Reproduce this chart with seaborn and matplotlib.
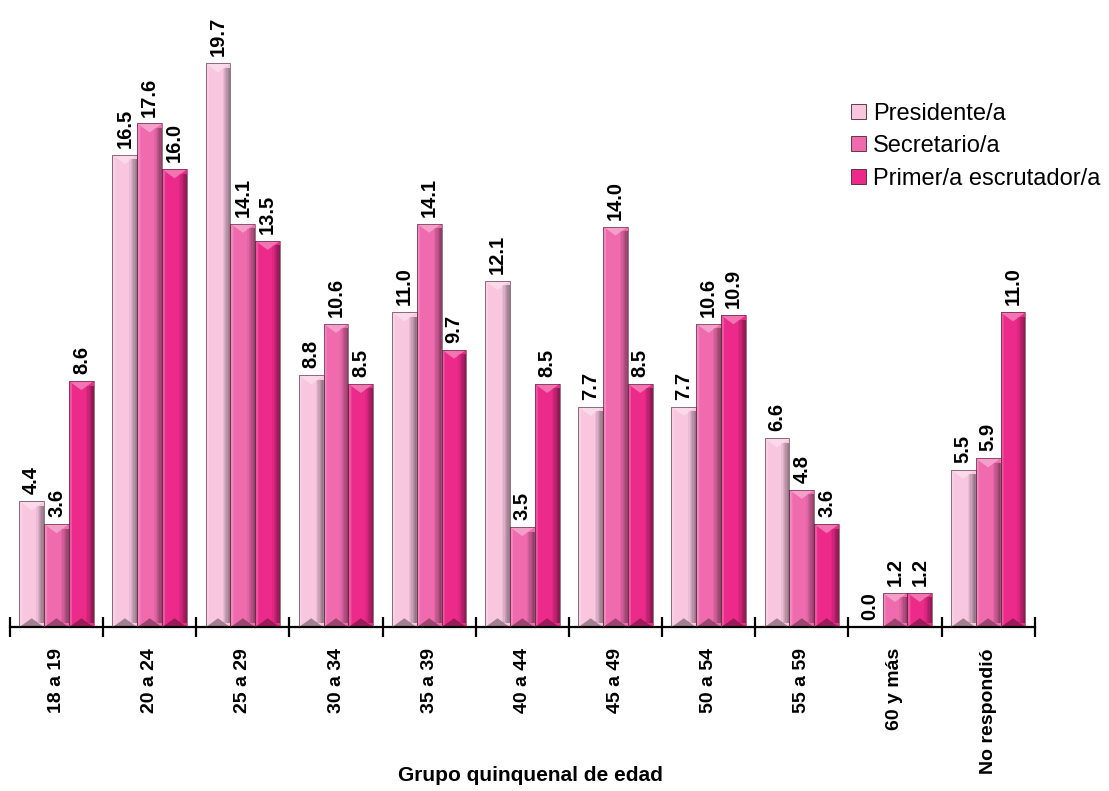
import numpy as np
import pandas as pd
import seaborn as sns
import matplotlib.pyplot as plt
from matplotlib.patches import Polygon

categories = ['18 a 19', '20 a 24', '25 a 29', '30 a 34', '35 a 39', '40 a 44',
              '45 a 49', '50 a 54', '55 a 59', '60 y más', 'No respondió']
presidente = [4.4, 16.5, 19.7, 8.8, 11.0, 12.1, 7.7, 7.7, 6.6, 0.0, 5.5]
secretario = [3.6, 17.6, 14.1, 10.6, 14.1, 3.5, 14.0, 10.6, 4.8, 1.2, 5.9]
escrutador = [8.6, 16.0, 13.5, 8.5, 9.7, 8.5, 8.5, 10.9, 3.6, 1.2, 11.0]
series_names = ['Presidente/a', 'Secretario/a', 'Primer/a escrutador/a']
colors = ['#F8C6DF', '#EF6BAE', '#EC2A8A']

rows = []
for name, vals in zip(series_names, [presidente, secretario, escrutador]):
    for c, v in zip(categories, vals):
        rows.append({'grupo': c, 'serie': name, 'valor': v})
df = pd.DataFrame(rows)

sns.set_style('white')
plt.rcParams['font.family'] = ['Liberation Sans', 'DejaVu Sans']
plt.rcParams['text.color'] = 'black'
plt.rcParams['xtick.color'] = 'black'
plt.rcParams['axes.labelcolor'] = 'black'

fig = plt.figure(figsize=(11.09, 7.91), dpi=100)
ax = fig.add_axes([0.009, 0.207, 0.924, 0.778])

sns.barplot(data=df, x='grupo', y='valor', hue='serie', palette=colors,
            saturation=1, width=0.8, edgecolor='none', linewidth=0, ax=ax, legend=True)

ax.set_ylim(0, 21.5)
ax.set_xlim(-0.5, len(categories) - 0.5)

# bevel size: about 9 px tall, converted to data units
fig.canvas.draw()
p0 = ax.transData.transform((0, 0))
p1 = ax.transData.transform((1, 1))
px_y = p1[1] - p0[1]


def bevel(x, w, h, z=3):
    dy = min(9.0 / px_y, h / 2)
    # top and bottom wedges
    ax.add_patch(Polygon([(x, h), (x + w, h), (x + w / 2, h - dy)], closed=True,
                         facecolor='white', alpha=0.35, lw=0, zorder=z))
    ax.add_patch(Polygon([(x, 0), (x + w, 0), (x + w / 2, dy)], closed=True,
                         facecolor='black', alpha=0.35, lw=0, zorder=z))
    # left light strip
    sl = w * 0.12
    ax.add_patch(Polygon([(x, 0), (x, h), (x + sl, h - dy * 0.3), (x + sl, dy * 0.3)],
                         closed=True, facecolor='white', alpha=0.2, lw=0, zorder=z))
    # right dark gradient strip
    n = 6
    sr = w * 0.32
    for i in range(n):
        x0 = x + w - sr + sr * i / n
        x1 = x + w - sr + sr * (i + 1) / n
        ax.add_patch(plt.Rectangle((x0, dy * 0.5), x1 - x0, h - dy, facecolor='black',
                                   alpha=0.05 + 0.07 * i, lw=0, zorder=z))
    ax.add_patch(plt.Rectangle((x, 0), w, h, fill=False, edgecolor='#4a2030',
                               lw=0.6, alpha=0.7, zorder=z))


for bar in list(ax.patches):
    h = bar.get_height()
    if h > 0:
        bevel(bar.get_x(), bar.get_width(), h)

for cont in ax.containers:
    ax.bar_label(cont, labels=[f'{v:.1f}' for v in cont.datavalues], rotation=90,
                 padding=5, fontsize=14.5, fontweight='bold', color='black')

for s in ['top', 'right', 'left']:
    ax.spines[s].set_visible(False)
ax.spines['bottom'].set_linewidth(1.6)
ax.spines['bottom'].set_color('black')
ax.set_yticks([])
ax.set_ylabel('')

ax.set_xticks(range(len(categories)))
ax.set_xticklabels(categories, rotation=90, fontsize=14, fontweight='bold')
ax.tick_params(axis='x', which='major', length=0, pad=15)
ax.set_xticks(np.arange(-0.5, len(categories)), minor=True)
ax.tick_params(axis='x', which='minor', bottom=True, length=14, width=1.6,
               direction='inout', color='black')

ax.set_xlabel('Grupo quinquenal de edad', fontsize=15, fontweight='bold', color='black')
ax.xaxis.set_label_coords(0.508, -0.226)

leg = ax.legend(loc='upper left', bbox_to_anchor=(0.812, 0.868), frameon=False,
                fontsize=17, handlelength=0.6, handleheight=0.6,
                handletextpad=0.3, labelspacing=0.45, borderaxespad=0)
for hdl in leg.legend_handles:
    hdl.set_edgecolor('#4a2030')
    hdl.set_linewidth(0.6)

fig.savefig('out.png', dpi=100)
